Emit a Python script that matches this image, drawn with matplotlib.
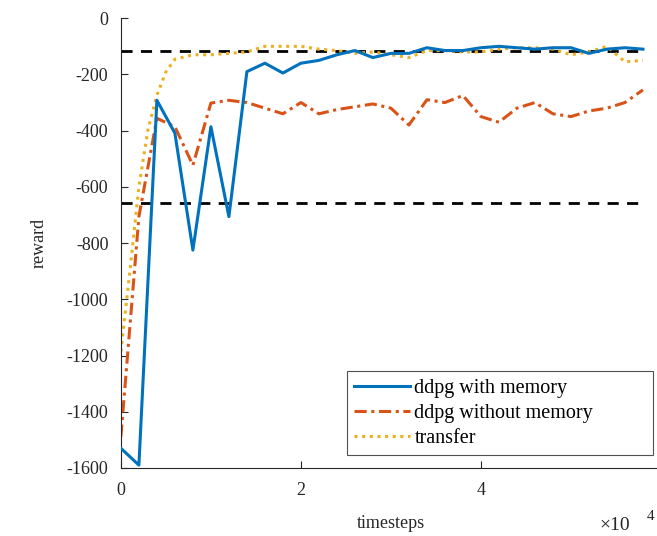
import numpy as np
import matplotlib.pyplot as plt

# timesteps (x 1e4)
steps = [0.0, 0.2, 0.4, 0.6, 0.8, 1.0, 1.2, 1.4, 1.6, 1.8, 2.0, 2.2, 2.4, 2.6, 2.8,
         3.0, 3.2, 3.4, 3.6, 3.8, 4.0, 4.2, 4.4, 4.6, 4.8, 5.0, 5.2, 5.4, 5.6, 5.8]

with_memory = [-1530, -1590, -292, -409, -825, -386, -706, -190, -160, -195,
               -160, -150, -130, -115, -140, -125, -125, -105, -115, -115,
               -105, -100, -105, -110, -105, -105, -125, -110, -105, -110]

without_memory = [-1489, -706, -356, -386, -523, -302, -292, -300, -320, -340,
                  -300, -340, -325, -315, -305, -320, -380, -290, -300, -275,
                  -350, -370, -320, -300, -340, -350, -330, -320, -300, -255]

# transfer is logged more densely at the start
transfer_steps = [0.0, 0.1, 0.2, 0.3, 0.4, 0.5, 0.6, 0.7, 0.8, 1.0, 1.2, 1.4, 1.6,
                  1.8, 2.0, 2.2, 2.4, 2.6, 2.8, 3.0, 3.2, 3.4, 3.6, 3.8, 4.0, 4.2,
                  4.4, 4.6, 4.8, 5.0, 5.2, 5.4, 5.6, 5.8]
transfer = [-1186, -900, -600, -398, -274, -191, -146, -138, -130, -130, -125,
            -120, -100, -100, -100, -110, -115, -125, -120, -130, -140, -115,
            -115, -120, -120, -110, -105, -105, -110, -130, -120, -100, -155, -150]

ref_levels = [-117, -657]

plt.rcParams['font.family'] = ['Liberation Serif', 'DejaVu Serif']
plt.rcParams['axes.unicode_minus'] = False

fig = plt.figure(figsize=(6.57, 5.36), dpi=100)
ax = fig.add_axes([0.184, 0.127, 0.822, 0.839])

x = np.array(steps) * 1e4
xt = np.array(transfer_steps) * 1e4
for lvl in ref_levels:
    ax.plot([x[0], x[-1]], [lvl, lvl], color='black', lw=2, ls=(0, (4, 3)), zorder=1)

ax.plot(x, with_memory, color='#0072BD', lw=2.2, label='ddpg with memory', zorder=3)
ax.plot(x, without_memory, color='#D95319', lw=2.2, ls=(0, (4, 1.5, 1, 1.5)),
        label='ddpg without memory', zorder=2)
ax.plot(xt, transfer, color='#EDB120', lw=2.2, ls=(0, (1, 1.5)), label='transfer', zorder=2)

ax.set_xlim(0, 6e4)
ax.set_ylim(-1600, 0)
ax.set_xticks([0, 2e4, 4e4, 6e4])
ax.set_xticklabels(['0', '2', '4', '6'])
ax.set_yticks(np.arange(-1600, 1, 200))

for s in ['top', 'right']:
    ax.spines[s].set_visible(False)
for s in ['left', 'bottom']:
    ax.spines[s].set_color('#262626')
    ax.spines[s].set_linewidth(0.8)
ax.tick_params(direction='in', length=5, width=0.8, colors='#262626',
               labelsize=13, pad=10)
ax.tick_params(axis='y', pad=9)

ax.set_xlabel('timesteps', fontsize=13, color='#262626', labelpad=12)
ax.set_ylabel('reward', fontsize=13, color='#262626', labelpad=14)
fig.text(0.912, 0.012, '×10', fontsize=14, color='#262626')
fig.text(0.985, 0.03, '4', fontsize=11, color='#262626')

leg = ax.legend(loc='lower left', bbox_to_anchor=(0.4185, 0.029, 0.5665, 0.189),
                mode='expand', fontsize=14.5, frameon=True, fancybox=False,
                handlelength=2.8, handletextpad=0.2, borderpad=0.35,
                labelspacing=0.3, borderaxespad=0)
leg.get_frame().set_edgecolor('#262626')
leg.get_frame().set_linewidth(0.8)

fig.savefig('out.png', dpi=100)
